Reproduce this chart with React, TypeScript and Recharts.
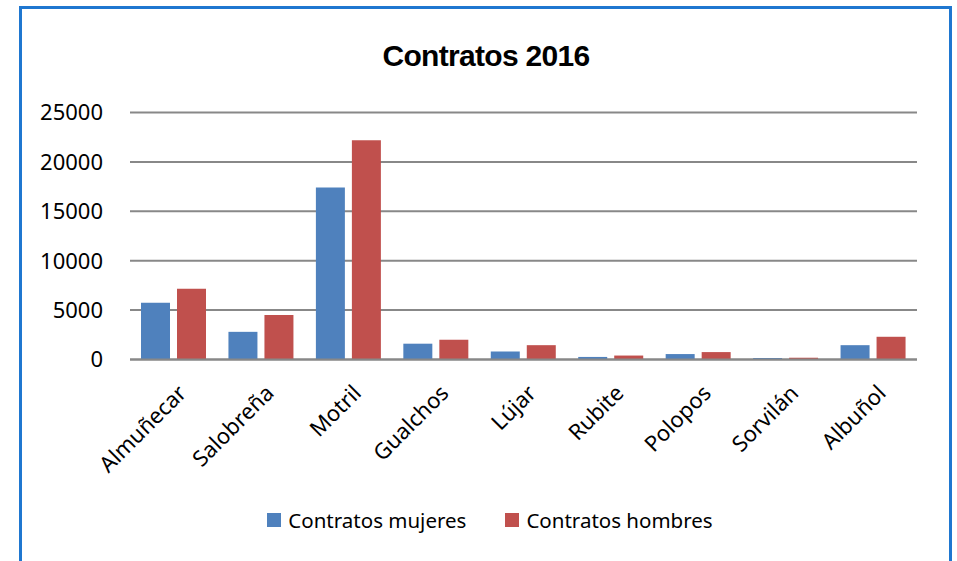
import React from 'react';
import { BarChart, Bar, XAxis, YAxis, CartesianGrid, Legend } from 'recharts';

const categories = ['Almuñecar', 'Salobreña', 'Motril', 'Gualchos', 'Lújar', 'Rubite', 'Polopos', 'Sorvilán', 'Albuñol'];
const mujeres = [5750, 2800, 17400, 1600, 800, 260, 550, 150, 1450];
const hombres = [7150, 4500, 22200, 2000, 1450, 400, 750, 180, 2300];
const yTicks = [0, 5000, 10000, 15000, 20000, 25000];
const seriesNames = ['Contratos mujeres', 'Contratos hombres'];
const seriesColors = ['#4f81bd', '#c0504d'];

const data = categories.map((c, i) => ({ name: c, mujeres: mujeres[i], hombres: hombres[i] }));

const FONT = '"Noto Sans", sans-serif';

const XTick = (props: any) => {
  const { x, y, payload } = props;
  const ax = x + 14;
  const ay = y + 35;
  return (
    <text
      x={ax}
      y={ay}
      transform={`rotate(-45, ${ax}, ${ay})`}
      textAnchor="end"
      fontFamily={FONT}
      fontSize={22}
      fill="#000"
    >
      {payload.value}
    </text>
  );
};

const LegendContent = () => (
  <div
    style={{
      display: 'flex',
      justifyContent: 'center',
      alignItems: 'center',
      paddingLeft: 23,
      boxSizing: 'border-box',
      width: 957,
      fontFamily: FONT,
      fontSize: 20.5,
      color: '#000',
    }}
  >
    {seriesNames.map((n, i) => (
      <div key={n} style={{ display: 'flex', alignItems: 'center', marginLeft: i === 0 ? 0 : 39 }}>
        <span style={{ display: 'inline-block', width: 14, height: 14, background: seriesColors[i], marginRight: 7 }} />
        <span>{n}</span>
      </div>
    ))}
  </div>
);

export default function App() {
  return (
    <div style={{ position: 'absolute', left: 0, top: 0, width: 957, height: 561, background: '#fff', overflow: 'hidden' }}>
      <div
        style={{
          position: 'absolute',
          left: 19,
          top: 6,
          width: 933,
          height: 700,
          border: '3px solid #1f77d0',
          boxSizing: 'border-box',
        }}
      />
      <div
        style={{
          position: 'absolute',
          left: 0,
          top: 41,
          width: 972,
          textAlign: 'center',
          fontFamily: '"Liberation Sans", sans-serif',
          fontWeight: 'bold',
          fontSize: 30,
          lineHeight: '1',
          letterSpacing: -0.7,
          color: '#000',
        }}
      >
        Contratos 2016
      </div>
      <div style={{ position: 'absolute', left: 0, top: 0 }}>
        <BarChart
          width={957}
          height={561}
          data={data}
          margin={{ top: 112.5, right: 40, bottom: 0, left: 0 }}
          barSize={29}
          barGap={7}
        >
          <CartesianGrid vertical={false} stroke="#888888" strokeWidth={2} />
          <XAxis
            dataKey="name"
            height={201.5}
            tickLine={false}
            tickSize={0}
            tickMargin={0}
            axisLine={{ stroke: '#888888', strokeWidth: 2 }}
            tick={<XTick />}
            interval={0}
          />
          <YAxis
            width={130}
            domain={[0, 25000]}
            ticks={yTicks}
            axisLine={false}
            tickLine={false}
            tickSize={0}
            tickMargin={27}
            tick={{ fontFamily: FONT, fontSize: 22, fill: '#000' }}
          />
          <Legend
            layout="horizontal"
            verticalAlign="middle"
            align="center"
            wrapperStyle={{ top: 506, left: 0, width: 957 }}
            content={<LegendContent />}
          />
          <Bar dataKey="mujeres" name={seriesNames[0]} fill={seriesColors[0]} isAnimationActive={false} />
          <Bar dataKey="hombres" name={seriesNames[1]} fill={seriesColors[1]} isAnimationActive={false} />
        </BarChart>
      </div>
    </div>
  );
}
